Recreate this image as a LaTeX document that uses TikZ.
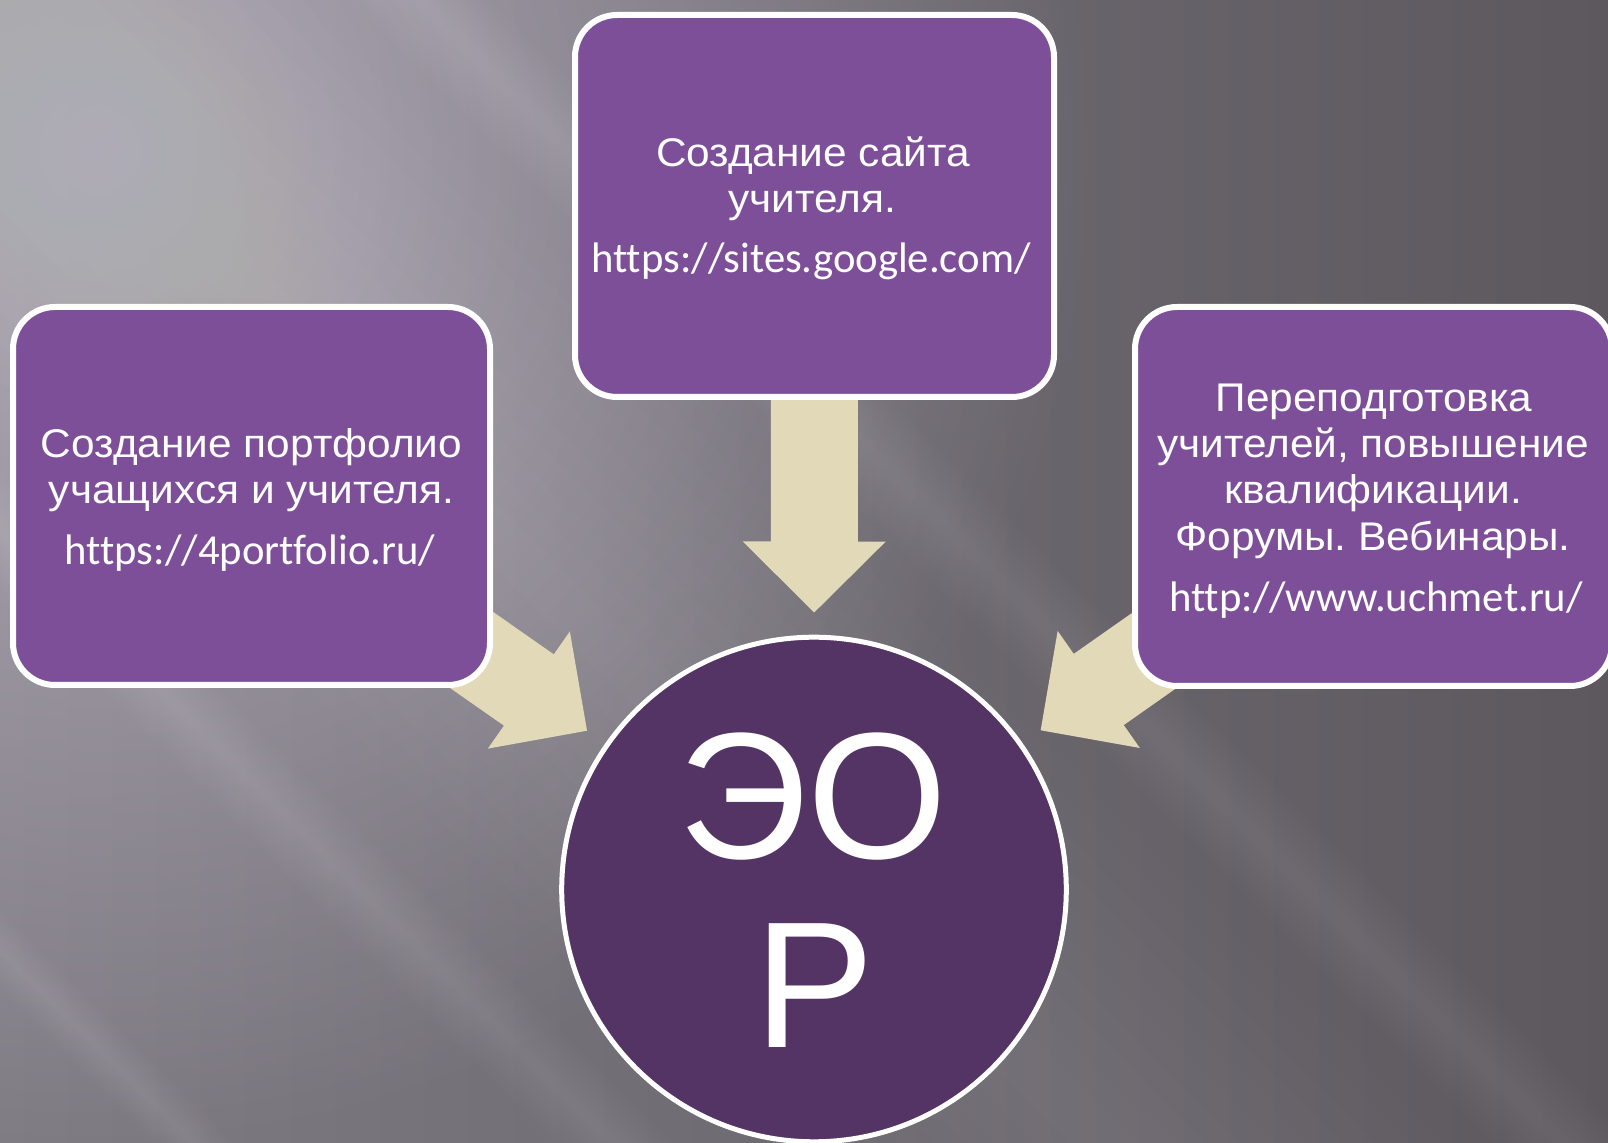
\documentclass[tikz,border=0pt]{standalone}
\usepackage{fontspec}
\usetikzlibrary{calc,fadings}
\frenchspacing
\newfontfamily\cyrfont{Liberation Sans}
\newfontfamily\urlfont[Ligatures=NoCommon]{Carlito}
\definecolor{boxpurple}{HTML}{7E4F99}
\definecolor{circpurple}{HTML}{533465}
\definecolor{arrowbeige}{HTML}{E2D9B8}
\definecolor{bgleft}{HTML}{807C84}
\definecolor{bgright}{HTML}{5C585E}
\definecolor{lavlight}{HTML}{D8D2E2}
\tikzfading[name=softdisc, inner color=transparent!0, outer color=transparent!100]
\pgfdeclarelayer{bg}
\pgfdeclarelayer{arr}
\pgfsetlayers{bg,arr,main}
% soft diagonal light band: #1 = x-intercept of centre line at top, #2 = half width, #3 = opacity per step
\newcommand\softband[3]{%
  \foreach \k in {1,...,10}{%
    \pgfmathsetmacro\hw{#2*\k/10}%
    \fill[white, opacity=#3] ({#1-\hw},0) -- ({#1+\hw},0) -- ({#1+\hw+1143},1143) -- ({#1-\hw+1143},1143) -- cycle;
  }}
\begin{document}
\begin{tikzpicture}[x=0.5pt,y=-0.5pt,
  box/.style={draw=white, line width=3pt, fill=boxpurple, rounded corners=21pt,
    minimum width=238.5pt, minimum height=189pt, inner sep=0pt},
  hub/.style={circle, draw=white, line width=2.5pt, fill=circpurple,
    minimum size=252.3pt, inner sep=0pt},
  cyrtxt/.style={font=\cyrfont\fontsize{20}{24}\selectfont, text=white, anchor=base, inner sep=0pt, xscale=1.06},
  urltxt/.style={font=\urlfont\fontsize{21.35}{25}\selectfont, text=white, anchor=base, inner sep=0pt},
  bigtxt/.style={font=\cyrfont\fontsize{90}{100}\selectfont, text=white, anchor=base, inner sep=0pt},
  blockarrow/.style={fill=arrowbeige}]

\useasboundingbox (0,0) rectangle (1608,1143);

\begin{pgfonlayer}{bg}
  \shade[left color=bgleft, right color=bgright] (0,0) rectangle (1608,1143);
  \fill[lavlight, opacity=0.55, path fading=softdisc] (100,150) circle (1000);
  \softband{-40}{340}{0.011}
  \softband{-530}{60}{0.012}
  \softband{-950}{40}{0.011}
  \softband{420}{70}{0.011}
\end{pgfonlayer}

\node[box] (boxL) at (251.5,496) {};
\node[box, minimum width=239.5pt, minimum height=191pt] (boxT) at (814.5,206) {};
\node[box, minimum height=189.5pt] (boxR) at (1373.5,496.5) {};
\node[hub] (eor) at (814,889.5) {};

\begin{pgfonlayer}{arr}
\foreach \b in {boxL,boxT,boxR} {
  \coordinate (\b-tip) at ($(eor.center)!138.5pt!(\b.center)$);
  \coordinate (\b-base) at ($(\b-tip)!35.5pt!(\b.center)$);
  \fill[blockarrow] ($(\b.center)!21.75pt!90:(\b-tip)$)
    -- ($(\b-base)!21.75pt!90:(\b-tip)$)
    -- ($(\b-base)!35.75pt!90:(\b-tip)$)
    -- (\b-tip)
    -- ($(\b-base)!35.75pt!-90:(\b-tip)$)
    -- ($(\b-base)!21.75pt!-90:(\b-tip)$)
    -- ($(\b.center)!21.75pt!-90:(\b-tip)$) -- cycle;
}
\end{pgfonlayer}

\node[cyrtxt] (tL1) at (251.5,458) {Создание портфолио};
\node[cyrtxt] (tL2) at (251.5,504) {учащихся и учителя.};
\node[urltxt] (tL3) at (250,565) {https://4portfolio.ru/};
\node[cyrtxt] (tT1) at (813,167) {Создание сайта};
\node[cyrtxt] (tT2) at (812,213) {учителя.};
\node[urltxt] (tT3) at (811,273) {https://sites.google.com/};
\node[cyrtxt] (tR1) at (1374,412) {Переподготовка};
\node[cyrtxt] (tR2) at (1373,458) {учителей, повышение};
\node[cyrtxt] (tR3) at (1373,504) {квалификации.};
\node[cyrtxt] (tR4) at (1373,551) {Форумы. Вебинары.};
\node[urltxt] (tR5) at (1376,612) {http://www.uchmet.ru/};
\node[bigtxt] (tE1) at (813,859) {ЭО};
\node[bigtxt] (tE2) at (815,1048) {Р};
\end{tikzpicture}
\end{document}
